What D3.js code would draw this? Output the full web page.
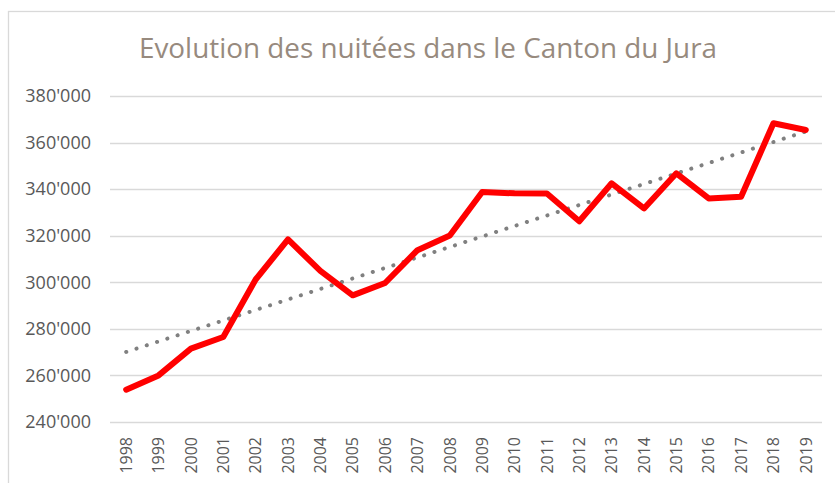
<!DOCTYPE html>
<html>
<head>
<meta charset="utf-8">
<script src="https://cdn.jsdelivr.net/npm/d3@7"></script>
<style>
  body { margin: 0; background: #fff; }
  svg { display: block; }
</style>
</head>
<body>
<div id="chart"></div>
<script>
const years = ['1998', '1999', '2000', '2001', '2002', '2003', '2004', '2005', '2006', '2007', '2008',
  '2009', '2010', '2011', '2012', '2013', '2014', '2015', '2016', '2017', '2018', '2019'];

const nuitees = [253900, 260000, 271500, 276500, 301200, 318400, 304900, 294400, 299700, 313800, 320100,
  338800, 338200, 338100, 326200, 342500, 331700, 346800, 336000, 336700, 368300, 365400];

const yTicks = [240000, 260000, 280000, 300000, 320000, 340000, 360000, 380000];

const title = 'Evolution des nuitées dans le Canton du Jura';

const width = 835;
const height = 483;

const svg = d3.select('#chart')
  .append('svg')
  .attr('width', width)
  .attr('height', height);

// chart frame (runs off the right and bottom of the picture)
svg.append('rect')
  .attr('x', 8.5)
  .attr('y', 11.5)
  .attr('width', 900)
  .attr('height', 900)
  .attr('fill', 'none')
  .attr('stroke', '#d9d9d9')
  .attr('stroke-width', 1.3);

svg.append('text')
  .attr('x', 428)
  .attr('y', 58)
  .attr('text-anchor', 'middle')
  .attr('textLength', 578)
  .attr('lengthAdjust', 'spacingAndGlyphs')
  .style('font-family', '"Open Sans", sans-serif')
  .style('font-weight', 400)
  .style('font-size', '28px')
  .style('fill', '#978a7e')
  .text(title);

const xScale = d3.scalePoint()
  .domain(years)
  .range([110, 822])
  .padding(0.5);

const yScale = d3.scaleLinear()
  .domain([240000, 380000])
  .range([422, 96]);

const fmt = d => d3.format(',')(d).replace(/,/g, "'");

// gridlines
svg.append('g')
  .selectAll('line')
  .data(yTicks)
  .enter()
  .append('line')
  .attr('x1', 110)
  .attr('x2', 822)
  .attr('y1', d => Math.round(yScale(d)) + 0.5)
  .attr('y2', d => Math.round(yScale(d)) + 0.5)
  .attr('stroke', '#d9d9d9')
  .attr('stroke-width', 1.3);

// y labels
const yAxis = d3.axisLeft(yScale)
  .tickValues(yTicks)
  .tickFormat(fmt)
  .tickSize(0)
  .tickPadding(0);

const gy = svg.append('g')
  .attr('transform', 'translate(91, 0)')
  .call(yAxis);
gy.select('.domain').remove();
gy.selectAll('text')
  .style('font-family', '"Open Sans", sans-serif')
  .style('font-size', '18px')
  .style('fill', '#595959');

// x labels, rotated
svg.append('g')
  .selectAll('text')
  .data(years)
  .enter()
  .append('text')
  .attr('transform', d => `translate(${xScale(d)}, 437) rotate(-90)`)
  .attr('dy', '0.36em')
  .attr('text-anchor', 'end')
  .style('font-family', '"Open Sans", sans-serif')
  .style('font-size', '16px')
  .style('fill', '#595959')
  .text(d => d);

// linear trend
const xs = years.map((d, i) => i);
const mx = d3.mean(xs);
const my = d3.mean(nuitees);
const slope = d3.sum(xs, (x, i) => (x - mx) * (nuitees[i] - my)) / d3.sum(xs, x => (x - mx) * (x - mx));
const trend = [0, years.length - 1].map(i => ({ year: years[i], value: my + slope * (i - mx) }));

svg.append('path')
  .datum(trend)
  .attr('d', d3.line().x(d => xScale(d.year)).y(d => yScale(d.value)))
  .attr('fill', 'none')
  .attr('stroke', '#808080')
  .attr('stroke-width', 4)
  .attr('stroke-linecap', 'round')
  .attr('stroke-dasharray', '0.1 10.7');

// series
svg.append('path')
  .datum(nuitees)
  .attr('d', d3.line().x((d, i) => xScale(years[i])).y(d => yScale(d)))
  .attr('fill', 'none')
  .attr('stroke', '#ff0000')
  .attr('stroke-width', 6)
  .attr('stroke-linejoin', 'round')
  .attr('stroke-linecap', 'round');
</script>
</body>
</html>
